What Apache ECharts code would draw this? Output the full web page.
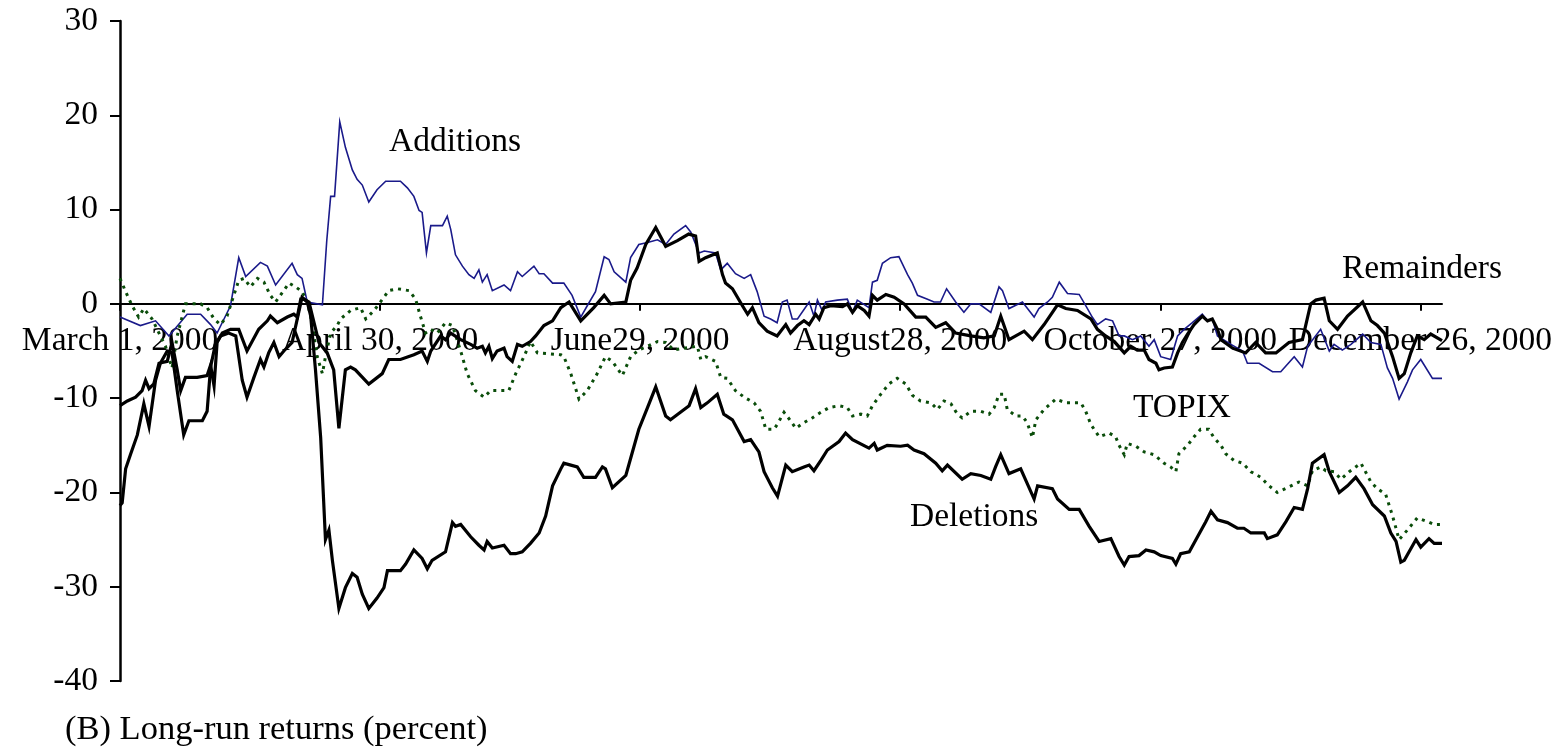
<!DOCTYPE html>
<html>
<head>
<meta charset="utf-8">
<script src="https://cdn.jsdelivr.net/npm/echarts@6/dist/echarts.min.js"></script>
<style>
  html, body { margin: 0; padding: 0; background: #fff; }
  #chart { width: 1558px; height: 749px; }
</style>
</head>
<body>
<div id="chart"></div>
<script>
// x = calendar days since March 1, 2000; y = cumulative return (percent)
const dateLabels = ["March 1, 2000", "April 30, 2000", "June29, 2000", "August28, 2000", "October 27, 2000", "December 26, 2000"];
const labelDays = [0, 60, 120, 180, 240, 300];

const additions = [
  [0,-1.4],[4.7,-2.3],[8.2,-1.8],[11.3,-3.4],[15.5,-1.1],[18.6,-1.1],[20.9,-2.2],[22.4,-3.1],[25.5,-0.2],[27.4,4.9],[29,2.9],[32.4,4.4],[34,4.0],[35.9,2.0],[39.7,4.3],[40.9,3.1],[42,2.7],[43.2,0.2],[46.7,-0.1],[47.7,6.7],[48.6,11.4],[49.5,11.4],[50.7,19.3],
  [52,16.6],[53.6,14.2],[54.7,13.2],[55.9,12.6],[57.4,10.8],[59.3,12.1],[61.3,13.0],[64.7,13.0],[66.3,12.3],[67.8,11.4],[69,9.9],[69.7,9.7],[70.7,5.4],[71.7,8.3],[74.4,8.3],[75.5,9.3],[76.3,7.9],[77.4,5.2],[79,4.0],[80.5,3.1],[81.7,2.7],[82.8,3.6],[83.6,2.3],[84.7,3.1],[85.9,1.4],[88.6,2.0],[90.1,1.4],[91.7,3.4],[92.8,2.9],[95.5,4.0],[96.7,3.2],[97.8,3.2],[99.8,2.2],
  [102.4,2.2],[104.3,0.9],[106.3,-1.4],[107.8,-0.2],[109.7,1.3],[111.7,5.0],[112.8,4.7],[114,3.4],[116.7,2.3],[117.8,4.9],[119.7,6.3],[121.7,6.5],[124,6.8],[125.9,6.3],[127.8,7.4],[130.5,8.3],[131.7,7.6],[133.6,5.4],[134.8,5.6],[137.4,5.4],[138.6,3.6],[140.1,4.3],[142,3.2],[144,2.7],[145.5,3.1],[147,1.3],[148.6,-1.3],[150.1,-1.6],
  [151.6,-2.0],[152.8,0.2],[153.9,0.4],[155.1,-1.6],[156.3,-1.6],[159,0.2],[160.1,-1.3],[160.9,0.4],[162,-0.7],[162.8,0.2],[165.5,0.4],[167.8,0.5],[169,-0.9],[170.1,0.4],[172.8,-0.4],[173.6,2.3],[174.7,2.5],[175.9,4.3],[177.8,4.9],[179.7,5.0],[181.7,3.1],[182.8,2.2],[184,0.9],[186.3,0.5],[187.8,0.2],[189.3,0.2],[190.7,1.6],[192.8,0.2],[194.7,-0.9],[196.3,0],[198.2,0],[200.9,-0.9],[202.8,1.8],
  [203.6,1.4],[205.1,-0.5],[208.2,0.2],[210.9,-1.4],[212,-0.5],[214,0.2],[215.1,0.7],[216.7,2.3],[218.6,1.1],[221.3,1.0],[223.2,-0.5],[224.3,-1.4],[225.5,-2.2],[227.4,-1.6],[229,-1.8],[230.5,-3.4],[231.7,-3.4],[233.6,-3.8],[235.5,-3.4],[237.4,-4.5],[238.6,-3.8],[240.1,-5.6],[242.4,-5.9],[244,-3.4],[245.5,-2.7],[247.4,-2.0],[249.7,-1.1],[250.9,-1.8],[252,-1.6],[253.2,-3.4],
  [256.3,-4.3],[259,-5.0],[260.1,-6.3],[262.8,-6.3],[265.9,-7.2],[267.8,-7.2],[270.9,-5.6],[272.8,-6.7],[274,-4.5],[277,-2.7],[279,-5.0],[280.1,-4.3],[282,-4.9],[284,-4.3],[286.7,-3.2],[288.6,-4.1],[290.9,-4.3],[292.4,-6.8],[293.6,-7.9],[295.1,-10.1],[297,-8.3],[298.2,-7.0],[300.1,-5.9],[302.8,-7.9],[305,-7.9]
];

const remainders = [
  [0,-10.8],[1.7,-10.3],[3.6,-9.9],[5.1,-9.2],[5.9,-8.1],[6.7,-9.0],[7.8,-8.5],[9,-6.3],[10.9,-6.1],[12,-4.1],[13.2,-7.0],[14,-9.2],[15.1,-7.8],[17.8,-7.8],[20.1,-7.6],[20.9,-6.5],[21.7,-8.7],[22.4,-4.1],[23.6,-3.1],[25.5,-2.7],[27.4,-2.7],[29.3,-5.0],[32,-2.7],[34,-1.8],[34.7,-1.3],[36.3,-2.0],[38.6,-1.4],[40.1,-1.1],[40.9,-1.4],[41.7,0.5],[42.4,0.5],[43.6,0.2],[45.9,-4.1],[47.8,-5.2],[49.3,-7.0],[50.5,-13.2],
  [52,-7.0],[53.2,-6.7],[54.3,-7.0],[57.4,-8.5],[60.5,-7.4],[62,-5.9],[64.7,-5.9],[67.8,-5.4],[69.7,-5.0],[70.9,-6.1],[71.7,-5.0],[74,-3.4],[75.1,-3.8],[76.3,-3.1],[78.6,-3.8],[80.9,-4.3],[82.4,-4.7],[83.6,-4.5],[84.3,-5.2],[85.1,-4.5],[85.9,-5.8],[87,-5.0],[88.6,-4.7],[89.3,-5.6],[90.5,-6.1],[91.7,-4.3],[92.8,-4.5],[94.7,-4.0],[95.9,-3.4],[97.8,-2.3],[99.8,-1.8],[101.7,-0.4],
  [103.6,0.2],[106.3,-1.8],[109.3,-0.4],[111.7,0.9],[113.2,0],[116.7,0.2],[117.8,2.5],[119.3,3.8],[121.3,6.3],[123.6,8.1],[125.9,6.1],[128.6,6.7],[131.2,7.4],[132.8,7.2],[133.6,4.5],[135.1,4.9],[137.8,5.4],[139,3.1],[139.7,2.2],[141.3,1.6],[143.6,-0.2],[144.8,-1.1],[145.9,-0.4],[147.4,-2.0],[149.3,-2.9],
  [151.6,-3.4],[153.6,-2.2],[154.7,-3.1],[156.3,-2.3],[157.8,-1.8],[159,-2.2],[160.5,-1.1],[161.3,-1.6],[162.4,-0.4],[164,-0.2],[166.7,-0.3],[167.8,0],[169,-0.9],[170.1,-0.2],[171.7,-0.7],[172.8,-1.3],[173.6,0.9],[174.7,0.4],[176.7,1.0],[178.6,0.7],[180.9,0],[183.6,-1.4],[185.9,-1.4],[188.2,-2.5],[190.5,-2.0],[192.8,-3.1],[196.3,-3.4],[199.3,-3.6],[201.7,-3.4],[203.2,-1.3],
  [205.1,-3.8],[208.6,-2.9],[210.5,-3.8],[213.2,-2.2],[216.3,-0.1],[218.2,-0.5],[220.9,-0.7],[224,-1.6],[225.5,-2.7],[227.4,-3.4],[229.4,-4.0],[231.7,-5.2],[233.2,-4.5],[234.7,-4.9],[236.3,-4.9],[237.4,-5.9],[239,-6.3],[239.7,-7.0],[240.9,-6.8],[242.8,-6.7],[244,-5.2],[245.1,-4.1],[246.3,-3.2],[247.8,-2.2],[249.7,-1.3],[250.9,-1.8],[252,-1.6],[253.2,-2.7],
  [254,-3.8],[256.7,-4.7],[259.7,-5.2],[262,-4.1],[264.3,-5.2],[266.7,-5.2],[269.7,-4.1],[272.8,-3.8],[274.7,0],[275.9,0.4],[277.8,0.6],[279,-1.8],[280.9,-2.7],[283.2,-1.3],[286.7,0.2],[288.6,-1.8],[290.1,-2.3],[291.7,-3.1],[293.6,-5.6],[295.1,-7.9],[296.3,-7.4],[297.8,-5.2],[299.3,-3.4],[300.9,-3.8],[302.4,-3.2],[305,-3.9]
];

const deletions = [
  [0,-21.4],[0.5,-21.1],[1.3,-17.5],[2.4,-16.0],[4,-13.9],[5.5,-10.6],[6.7,-13.0],[8.2,-8.1],[9.3,-6.3],[10.9,-5.0],[12,-5.2],[13.2,-9.2],[14.7,-13.9],[15.9,-12.4],[19,-12.4],[20.1,-11.4],[20.9,-6.7],[22,-4.3],[23.2,-3.4],[25.1,-3.1],[26.7,-3.4],[28.2,-8.1],[29.3,-9.9],[30.9,-7.8],[32.4,-5.9],[33.2,-6.7],[34.3,-5.2],[35.5,-4.1],[36.7,-5.6],[37.8,-5.0],[39.7,-4.1],[40.9,-1.6],[42,0.7],[43.2,0.2],[44,-1.3],[45.1,-7.0],[46.3,-14.2],[47.4,-25.0],[48.2,-24.0],[49,-27.2],[50.5,-32.3],
  [52,-30.1],[53.6,-28.6],[54.7,-29.0],[55.9,-30.8],[57.4,-32.3],[59.3,-31.2],[60.9,-30.1],[61.7,-28.3],[64.7,-28.3],[65.9,-27.6],[67.8,-26.1],[69.7,-27.0],[70.9,-28.1],[72,-27.2],[75.1,-26.3],[76.7,-23.2],[77.4,-23.6],[78.6,-23.4],[80.9,-24.7],[82.8,-25.6],[84,-26.1],[84.7,-25.2],[85.9,-25.9],[88.6,-25.6],[90.1,-26.5],[91.3,-26.5],[92.8,-26.3],[94.7,-25.4],[96.7,-24.3],[98.2,-22.5],[99.8,-19.3],[101.7,-17.5],
  [102.4,-16.9],[104,-17.1],[105.5,-17.3],[107,-18.4],[109.7,-18.4],[111.3,-17.3],[112,-17.5],[113.6,-19.5],[116.7,-18.2],[117.8,-16.4],[119.7,-13.3],[121.7,-11.0],[123.6,-8.8],[125.9,-11.9],[127,-12.3],[129.3,-11.5],[131.3,-10.8],[132.8,-9.0],[134,-11.0],[135.5,-10.5],[137.8,-9.6],[139.3,-11.7],[141.3,-12.3],[144,-14.6],[145.5,-14.4],[147.4,-15.7],[148.6,-17.8],[150.5,-19.5],[151.7,-20.4],
  [153.6,-17.1],[155.1,-17.8],[157.8,-17.3],[159,-17.1],[160.1,-17.7],[161.7,-16.6],[163.2,-15.5],[165.9,-14.6],[167.4,-13.7],[169,-14.4],[172.8,-15.3],[174,-14.8],[174.7,-15.5],[177,-15.0],[180.1,-15.1],[181.7,-15.0],[183.2,-15.5],[185.5,-15.9],[188.2,-16.9],[189.7,-17.7],[190.9,-17.1],[194.3,-18.6],[196.3,-18.0],[198.6,-18.2],[200.9,-18.6],[202,-17.3],[203.2,-16.0],
  [205.1,-18.0],[207.8,-17.5],[210.9,-20.7],[211.7,-19.3],[215.1,-19.6],[216.3,-20.7],[219,-21.8],[221.3,-21.8],[223.6,-23.6],[225.9,-25.2],[228.6,-24.9],[230.5,-26.8],[231.7,-27.7],[232.8,-26.8],[235.1,-26.7],[236.7,-26.1],[238.6,-26.3],[240.1,-26.7],[242.8,-27.0],[243.6,-27.6],[244.7,-26.5],[246.7,-26.3],[248.6,-24.7],[250.5,-23.1],[251.7,-22.0],[253.2,-22.9],
  [255.5,-23.2],[257.8,-23.8],[259.3,-23.8],[260.9,-24.3],[264,-24.3],[264.7,-24.9],[267,-24.5],[269,-23.1],[270.9,-21.6],[272.8,-21.8],[274,-19.6],[275.1,-16.9],[277.8,-16.0],[279,-17.8],[281.3,-20.0],[283.2,-19.3],[285.1,-18.4],[287,-19.6],[289,-21.3],[291.7,-22.5],[293.2,-24.3],[294.4,-25.2],[295.5,-27.4],[296.3,-27.2],[299,-25.0],[300.1,-25.8],[302,-24.9],[303.2,-25.4],[305,-25.4]
];

const topix = [
  [0,2.7],[1.3,1.3],[2.8,-0.2],[4.3,-1.4],[5.5,-0.5],[7.4,-1.6],[9,-3.1],[10.5,-4.5],[12,-6.8],[13.2,-3.4],[15.1,0],[18.6,0],[20.1,-0.4],[21.7,-1.6],[23.2,-2.2],[24.7,-1.3],[25.9,0.4],[27.4,2.5],[28.6,2.7],[30.1,1.8],[31.7,2.7],[33.2,2.3],[34.7,0.9],[35.9,0.2],[37,0.9],[39,2.2],[40.5,1.8],[42,1.3],[43.2,0.2],[44.3,-2.0],[45.5,-5.6],[46.7,-7.4],[47.4,-5.6],[48.6,-3.1],[50.1,-2.3],
  [50.9,-1.6],[53.2,-0.7],[55.5,-0.4],[56.7,-1.6],[58.6,-0.7],[60.1,0.2],[62,1.4],[64,1.6],[66.7,1.4],[68.2,0.5],[69.3,-1.3],[70.5,-3.1],[71.7,-2.7],[73.2,-3.1],[75.1,-2.0],[76.7,-2.3],[78.6,-5.0],[80.1,-7.4],[82,-9.2],[84,-9.9],[85.5,-9.2],[89.7,-9.2],[91.3,-7.4],[93.2,-5.6],[94.7,-4.0],[96.3,-5.2],[101.7,-5.4],
  [102.4,-5.6],[104,-7.4],[105.9,-10.1],[107.8,-9.2],[110.1,-7.4],[112,-5.6],[113.6,-6.1],[115.9,-7.6],[117.8,-5.6],[119.7,-4.9],[121.7,-4.5],[124,-4.0],[125.9,-4.1],[127.8,-4.9],[130.1,-4.7],[133.2,-4.5],[134,-5.9],[135.1,-5.6],[137.4,-6.1],[138.6,-7.8],[140.1,-7.9],[142,-9.2],[144,-9.9],[146.3,-10.5],[147.8,-11.4],[149,-13.3],[150.9,-13.3],
  [151.6,-12.8],[153.2,-11.5],[154.7,-12.4],[155.9,-13.2],[157.8,-12.6],[159.7,-12.1],[161.7,-11.5],[163.6,-11.0],[165.9,-10.8],[167.8,-11.0],[169,-11.9],[170.9,-11.7],[172.4,-11.9],[173.6,-10.8],[175.5,-9.6],[177.4,-8.5],[179.3,-7.9],[181.3,-8.5],[182.8,-9.7],[184.7,-10.3],[187.1,-10.5],[188.6,-11.2],[190.1,-10.3],[191.7,-10.6],[193.2,-11.7],[194.3,-12.1],[196.3,-11.4],[198.6,-11.4],[200.5,-11.7],[201.7,-11.0],[202.8,-9.6],
  [204,-9.6],[204.7,-11.2],[206.7,-11.9],[208.2,-11.9],[209.3,-12.6],[210.5,-14.2],[211.3,-12.3],[213.2,-11.2],[215.9,-10.1],[218.2,-10.5],[221.7,-10.5],[222.8,-11.4],[224,-12.8],[225.9,-14.1],[228.2,-13.7],[229.7,-14.1],[230.5,-15.0],[231.7,-16.0],[232.4,-14.8],[234.4,-15.1],[236.3,-15.7],[238.6,-16.0],[240.9,-16.9],[242.4,-17.3],[243.6,-17.8],[244.3,-15.9],[246.3,-15.0],[247.8,-14.1],[249.3,-13.3],[251.2,-13.3],[252.4,-14.2],[254,-15.0],
  [255.1,-15.9],[257,-16.6],[259,-16.9],[260.9,-17.8],[263.2,-18.4],[265.1,-19.3],[267,-20.0],[269.3,-19.5],[272,-18.9],[274,-19.3],[275.1,-17.7],[277,-17.3],[278.2,-17.7],[280.1,-17.8],[281.7,-18.6],[283.6,-17.8],[286.3,-16.9],[288.6,-18.9],[290.1,-19.6],[292,-20.2],[293.6,-22.5],[295.1,-25.0],[297,-24.0],[299.3,-22.7],[301.7,-23.1],[303.2,-23.4],[305,-23.4]
];

const FONT = "'Liberation Serif', 'Times New Roman', serif";
const GRID = { left: 120, right: 116, top: 21, bottom: 68 };
const Y_MIN = -40;
const Y_MAX = 30;

const chart = echarts.init(document.getElementById("chart"));

// 가로축을 0 위치로 올리기 (v6에서 onZero가 라벨을 옮기지 않음)
const plotHeight = 749 - GRID.top - GRID.bottom;
const zeroOffset = -plotHeight * (0 - Y_MIN) / (Y_MAX - Y_MIN);

const lineSeries = (name, data, color, width, type, z) => ({
  name,
  type: "line",
  data,
  symbol: "none",
  z,
  lineStyle: { color, width, type, cap: "butt", join: "miter" },
});

chart.setOption({
  animation: false,
  backgroundColor: "#fff",
  grid: GRID,
  xAxis: {
    type: "value",
    min: 0,
    max: 305,
    interval: 60,
    offset: zeroOffset,
    axisLine: { onZero: false, lineStyle: { color: "#000", width: 2 } },
    axisTick: { customValues: labelDays, length: 7, lineStyle: { color: "#000", width: 2 } },
    axisLabel: {
      customValues: labelDays,
      margin: 20,
      color: "#000",
      fontFamily: FONT,
      fontSize: 33.5,
      formatter: (v) => dateLabels[labelDays.indexOf(v)] ?? "",
    },
    splitLine: { show: false },
  },
  yAxis: {
    type: "value",
    min: Y_MIN,
    max: Y_MAX,
    interval: 10,
    axisLine: { show: true, onZero: false, lineStyle: { color: "#000", width: 2.5 } },
    axisTick: { show: true, length: 10, lineStyle: { color: "#000", width: 2 } },
    axisLabel: { margin: 22, color: "#000", fontFamily: FONT, fontSize: 33.5 },
    splitLine: { show: false },
  },
  series: [
    lineSeries("Additions", additions, "#1a1a8a", 1.6, "solid", 2),
    lineSeries("TOPIX", topix, "#0a4d0a", 3, [3, 5], 3),
    lineSeries("Remainders", remainders, "#000", 3.2, "solid", 4),
    lineSeries("Deletions", deletions, "#000", 3.2, "solid", 4),
  ],
  graphic: [
    { type: "text", left: 389, top: 142 - 17, style: { text: "Additions", font: `33.5px ${FONT}`, fill: "#000" } },
    { type: "text", left: 1342, top: 269 - 17, style: { text: "Remainders", font: `33.5px ${FONT}`, fill: "#000" } },
    { type: "text", left: 1133, top: 408 - 17, style: { text: "TOPIX", font: `33.5px ${FONT}`, fill: "#000" } },
    { type: "text", left: 910, top: 517 - 17, style: { text: "Deletions", font: `33.5px ${FONT}`, fill: "#000" } },
    { type: "text", left: 65, top: 730 - 18, style: { text: "(B) Long-run returns (percent)", font: `34.5px ${FONT}`, fill: "#000" } },
  ],
});
</script>
</body>
</html>
